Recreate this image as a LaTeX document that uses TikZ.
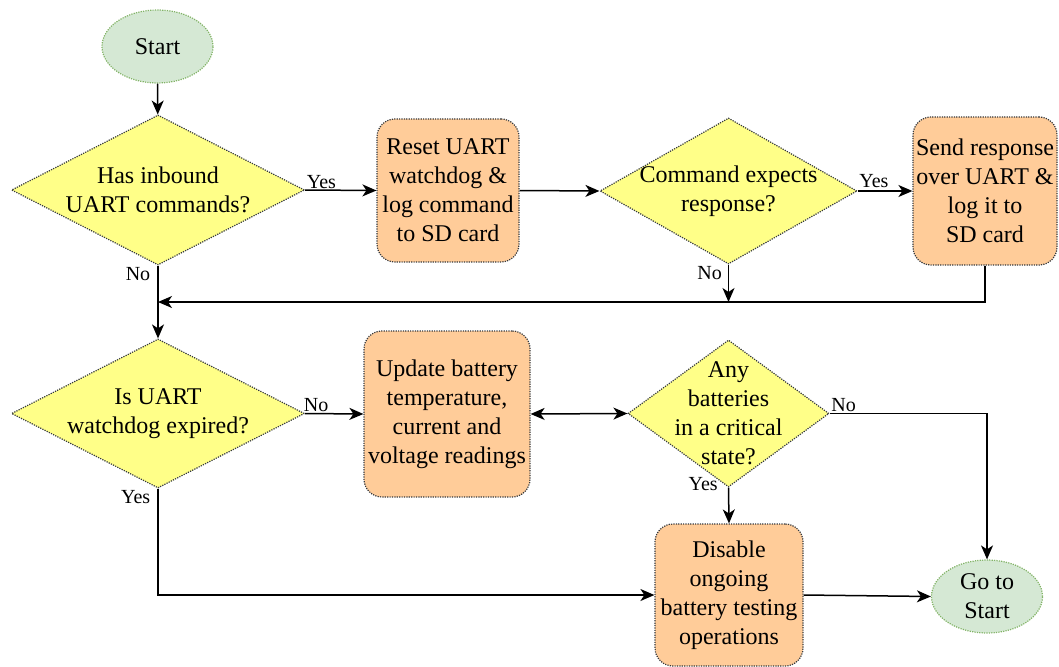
\documentclass[tikz,border=0pt]{standalone}
\usepackage{fontspec}
\setmainfont{Liberation Serif}
\usetikzlibrary{shapes.geometric,arrows.meta,positioning}

\definecolor{termfill}{HTML}{D5E8D4}
\definecolor{termline}{HTML}{82B366}
\definecolor{askfill}{HTML}{FFFF88}
\definecolor{blockfill}{HTML}{FFCC99}
\definecolor{rimline}{HTML}{36393D}

\newcommand{\boxfont}{\rmfamily\fontsize{24}{29}\selectfont}
\newcommand{\answerfont}{\rmfamily\fontsize{20}{24}\selectfont}

\tikzstyle{rim} = [line width=1.2pt, dash pattern=on 1.2pt off 1.2pt]
\tikzstyle{terminal} = [ellipse, draw=termline, fill=termfill, rim, inner sep=0pt, minimum width=111pt, minimum height=73pt, align=center, font=\boxfont]
\tikzstyle{decision} = [diamond, draw=rimline, fill=askfill, rim, inner sep=0pt]
\tikzstyle{ask} = [align=center, inner sep=0pt, font=\boxfont]
\tikzstyle{block} = [rectangle, draw=rimline, fill=blockfill, rim, rounded corners=18pt, inner sep=0pt, align=center, font=\boxfont]
\tikzstyle{line} = [draw, -{Stealth[length=14pt,width=12pt,inset=4pt]}, line width=1.5pt]
\tikzstyle{twoway} = [draw, {Stealth[length=14pt,width=12pt,inset=4pt]}-{Stealth[length=14pt,width=12pt,inset=4pt]}, line width=1.5pt]
\tikzstyle{answer} = [inner sep=1pt, font=\answerfont]

\begin{document}
\begin{tikzpicture}[x=1pt, y=-1pt]
    \useasboundingbox (0,0) rectangle (1059,666);

    % Upper row: command handling
    % * start
    % * inbound commands ?
    % * reset watchdog, log command
    % * response wanted ? -> send it

    % START
        \node [terminal]
            (start) at (157.5,46.5) {Start};
    % ASK inbound commands
        \node [decision, minimum width=293pt, minimum height=150pt,
               label={[ask]center:Has inbound\\UART commands?}]
            (inbound) at (158,190) {};
    % RESET watchdog
        \node [block, minimum width=142pt, minimum height=143pt]
            (reset) at (448,190.5) {Reset UART\\watchdog \&\\log command\\to SD card};
    % ASK response
        \node [decision, minimum width=257pt, minimum height=146pt,
               label={[ask]center:Command expects\\response?}]
            (expects) at (728.5,191) {};
    % SEND response
        \node [block, minimum width=144pt, minimum height=148pt]
            (sendresp) at (985,191) {Send response\\over UART \&\\log it to\\SD card};

    % Lower row: battery handling
    % * watchdog expired ?
    % * update readings
    % * critical state ? -> disable testing
    % * back to start

    % ASK watchdog
        \node [decision, minimum width=293pt, minimum height=149pt,
               label={[ask]center:Is UART\\watchdog expired?}]
            (watchdog) at (158,413.5) {};
    % UPDATE readings
        \node [block, minimum width=166pt, minimum height=166pt]
            (update) at (447,414) {Update battery\\temperature,\\current and\\voltage readings};
    % ASK critical
        \node [decision, minimum width=201pt, minimum height=147pt,
               label={[ask]center:Any\\batteries\\in a critical\\state?}]
            (critical) at (728.5,413.5) {};
    % DISABLE testing
        \node [block, minimum width=148pt, minimum height=142pt]
            (disable) at (729,595) {Disable\\ongoing\\battery testing\\operations};
    % GO TO START
        \node [terminal]
            (goto) at (987,596.5) {Go to\\Start};

    % join point of the upper row
        \coordinate (merge) at (158,302);

    % LINE start -> inbound
        \path[line] (start) -- (inbound);
    % LINE inbound -> reset
        \path[line] (inbound.east) -- (reset.west)
            node[answer, pos=0, anchor=south west] {Yes};
    % LINE reset -> expects
        \path[line] (reset.east) -- (expects.west);
    % LINE expects -> sendresp
        \path[line] (expects.east) -- (sendresp.west)
            node[answer, pos=0, anchor=south west, yshift=2pt] {Yes};
    % LINE expects -> join
        \path[line] (expects.south) -- (expects.south |- merge)
            node[answer, pos=0, anchor=north east, xshift=-5pt] {No};
    % LINE sendresp -> join
        \path[line] (sendresp.south) |- (merge);
    % LINE inbound -> watchdog
        \path[line] (inbound.south) -- (watchdog.north)
            node[answer, pos=0, anchor=north east, xshift=-6pt] {No};
    % LINE watchdog -> update
        \path[line] (watchdog.east) -- (update.west)
            node[answer, pos=0, anchor=south west, xshift=-3pt] {No};
    % LINE update <-> critical
        \path[twoway] (update.east) -- (critical.west);
    % LINE critical -> goto
        \path[line] (critical.east) -| (goto.north)
            node[answer, pos=0, anchor=south west] {No};
    % LINE critical -> disable
        \path[line] (critical.south) -- (disable.north)
            node[answer, pos=0, anchor=north east, xshift=-9pt, yshift=12pt] {Yes};
    % LINE watchdog -> disable
        \path[line] (watchdog.south) |- (disable.west)
            node[answer, pos=0, anchor=north east, xshift=-6pt] {Yes};
    % LINE disable -> goto
        \path[line] (disable.east) -- (goto.west);
\end{tikzpicture}
\end{document}
